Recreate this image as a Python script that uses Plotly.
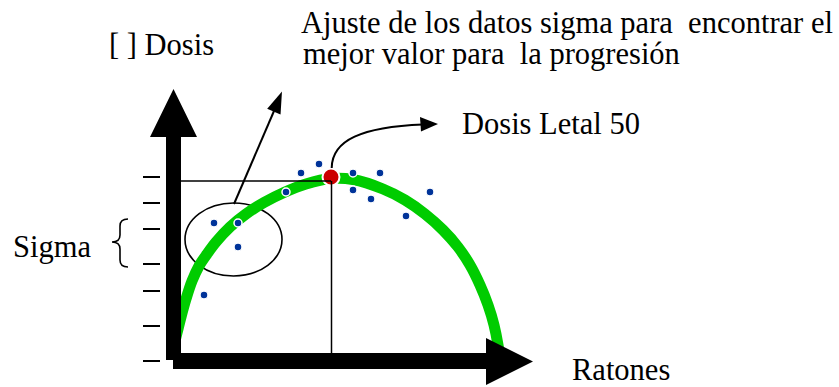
import plotly.graph_objects as go

# ---------------- data (diagram values) ----------------
# Observed points: x = Ratones, y = [ ] Dosis
rat_points = [23, 33, 57, 57, 105, 120, 138, 172, 199, 172, 190, 225, 249]
dose_points = [58, 130, 130, 106, 161, 180, 189, 180, 180, 163, 154, 137, 161]

# Fitted curve (sigma adjustment)
fit_rat = [-7, -4, 0, 5, 11, 18, 26, 35, 49, 65, 83, 103, 125, 150,
           172, 202, 224, 244, 262, 277, 289, 299, 307, 313, 317, 319]
fit_dose = [8, 20, 36, 54, 72, 87, 99, 111, 126, 139, 150.5, 160.5, 169, 174.5,
            173.5, 164, 153, 139, 123, 106, 88, 68, 48, 28, 8, -7]

# Lethal dose 50
ld50_rat = [150]
ld50_dose = [176]

# Dose axis tick marks
dose_ticks = [176, 150, 124, 89, 62, 27, -8]

# ---------------- layout helpers ----------------
OX, OY = 181, 353          # pixel position of the axis corner
W, H = 839, 387


def P(px, py):
    return f"{px - OX:.1f},{OY - py:.1f}"


FONT = "Liberation Serif"
BLACK = "#000000"

fig = go.Figure()

fig.add_trace(go.Scatter(
    x=fit_rat, y=fit_dose, mode="lines",
    line=dict(color="#00CC00", width=11, shape="spline", smoothing=1.0),
    hoverinfo="skip", showlegend=False))

fig.add_trace(go.Scatter(
    x=rat_points, y=dose_points, mode="markers",
    marker=dict(color="#003399", size=8, line=dict(color="white", width=1.5)),
    showlegend=False))

shapes = []
# ellipse around the sigma group (below the curve)
shapes.append(dict(type="circle", xref="x", yref="y", layer="below",
                   x0=185 - OX, x1=282 - OX, y0=OY - 276, y1=OY - 203,
                   line=dict(color=BLACK, width=1.6)))
# reference lines to LD50
shapes.append(dict(type="line", xref="x", yref="y", layer="above",
                   x0=0, x1=ld50_rat[0], y0=ld50_dose[0] - 4, y1=ld50_dose[0] - 4,
                   line=dict(color=BLACK, width=1.5)))
shapes.append(dict(type="line", xref="x", yref="y", layer="above",
                   x0=ld50_rat[0] + 0.5, x1=ld50_rat[0] + 0.5, y0=0, y1=ld50_dose[0] - 4,
                   line=dict(color=BLACK, width=1.5)))
# tick marks
for t in dose_ticks:
    shapes.append(dict(type="line", xref="x", yref="y", layer="above",
                       x0=143 - OX, x1=160 - OX, y0=t, y1=t,
                       line=dict(color=BLACK, width=2)))
# vertical axis arrow
shapes.append(dict(type="path", xref="x", yref="y", layer="above",
                   path=f"M {P(166,360)} L {P(166,137)} L {P(150,137)} L {P(173.5,89)} L {P(197,137)} L {P(181,137)} L {P(181,360)} Z",
                   fillcolor=BLACK, line=dict(color=BLACK, width=0)))
# horizontal axis arrow
shapes.append(dict(type="path", xref="x", yref="y", layer="above",
                   path=f"M {P(173,353)} L {P(486,353)} L {P(486,338)} L {P(533,361.5)} L {P(486,385)} L {P(486,369)} L {P(173,369)} Z",
                   fillcolor=BLACK, line=dict(color=BLACK, width=0)))
# brace for Sigma
shapes.append(dict(type="path", xref="x", yref="y", layer="above",
                   path=(f"M {P(128,219)} Q {P(120,219)} {P(120,226)} L {P(120,235)} "
                         f"Q {P(120,242)} {P(112,242)} Q {P(120,242)} {P(120,249)} "
                         f"L {P(120,260)} Q {P(120,267)} {P(128,267)}"),
                   line=dict(color=BLACK, width=1.6)))
# straight arrow from ellipse
shapes.append(dict(type="line", xref="x", yref="y", layer="above",
                   x0=234 - OX, y0=OY - 204, x1=274 - OX, y1=OY - 111,
                   line=dict(color=BLACK, width=2)))
shapes.append(dict(type="path", xref="x", yref="y", layer="above",
                   path=f"M {P(282,91.5)} L {P(280.5,114.5)} L {P(267.2,108.7)} Z",
                   fillcolor=BLACK, line=dict(color=BLACK, width=0)))
# curved arrow from LD50
shapes.append(dict(type="path", xref="x", yref="y", layer="above",
                   path=f"M {P(331.7,168)} C {P(332,140)} {P(362,127)} {P(423,124.5)}",
                   line=dict(color=BLACK, width=2)))
shapes.append(dict(type="path", xref="x", yref="y", layer="above",
                   path=f"M {P(438,124)} L {P(420,117)} L {P(421,131.5)} Z",
                   fillcolor=BLACK, line=dict(color=BLACK, width=0)))

fig.add_trace(go.Scatter(
    x=ld50_rat, y=ld50_dose, mode="markers",
    marker=dict(color="#CC0000", size=17, line=dict(color="white", width=2)),
    showlegend=False))

annotations = []


def label(px, pyc, text):
    annotations.append(dict(x=px - OX, y=OY - pyc, xref="x", yref="y", text=text,
                            showarrow=False, xanchor="left", yanchor="middle",
                            font=dict(family=FONT, size=30.5, color=BLACK)))


label(299, 22.5, "Ajuste de los datos sigma para\u00a0 encontrar el")
label(301, 53.5, "mejor valor para\u00a0 la progresión")
label(107, 45, "[ ] Dosis")
label(460, 124, "Dosis Letal 50")
label(11, 247, "Sigma")
label(570, 370, "Ratones")

fig.update_layout(
    width=W, height=H, margin=dict(l=0, r=0, t=0, b=0),
    paper_bgcolor="white", plot_bgcolor="white",
    xaxis=dict(range=[-OX, W - OX], visible=False, fixedrange=True),
    yaxis=dict(range=[OY - H, OY], visible=False, fixedrange=True),
    shapes=shapes, annotations=annotations, showlegend=False,
)

fig.write_html("out.html", config={"displayModeBar": False},
               post_script="document.body.style.margin='0';")
